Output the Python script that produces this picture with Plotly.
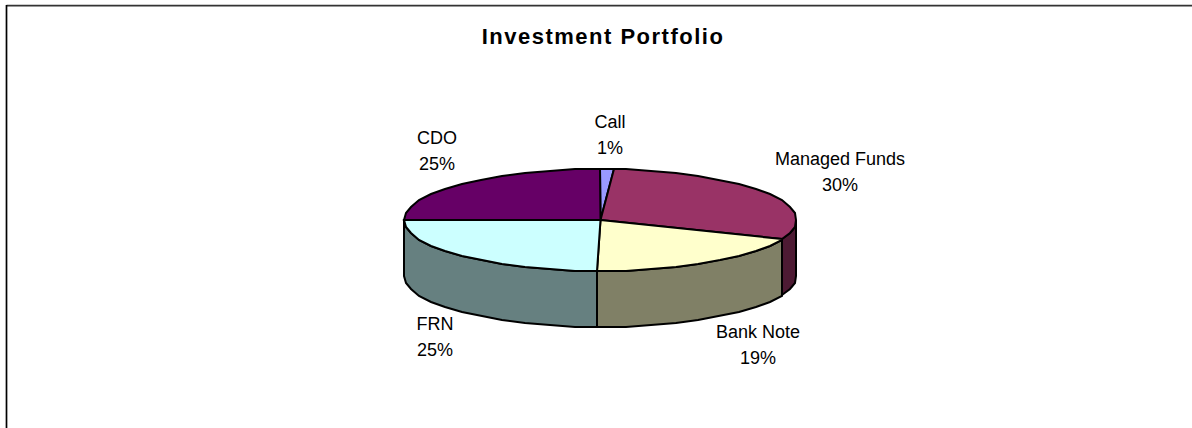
import math
import plotly.graph_objects as go

# Data
categories = ["Call", "Managed Funds", "Bank Note", "FRN", "CDO"]
values = [1.1, 30.1, 19.1, 24.7, 25.0]
title_text = "Investment Portfolio"

# Styles
top_colors = ["#9999FF", "#993366", "#FFFFCC", "#CCFFFF", "#660066"]
side_colors = ["#4D4D80", "#4D1A33", "#808066", "#668080", "#330033"]

# Layout (pixels)
W, H = 1192, 428
CX, CY, RX, RY, DEPTH = 600.5, 220, 196, 51, 56
STEP = 7.5
LABEL_CENTERS = [(610, 123), (840, 160), (758, 333), (435, 325), (437, 139)]
LINE_GAP = 26


def arc(a0, a1):
    """Angles in degrees, clockwise from the top, sampled on a coarse facet grid."""
    inner = []
    k = math.floor(a0 / STEP) + 1
    while k * STEP < a1:
        inner.append(k * STEP)
        k += 1
    return [a0] + inner + [a1]


def pt(a, dz=0.0):
    r = math.radians(a)
    return round(CX + RX * math.sin(r)), round(CY - RY * math.cos(r)) + dz


total = sum(values)
edges = [0.0]
for v in values:
    edges.append(edges[-1] + v / total * 360.0)

fig = go.Figure()

# Outer walls, only the part facing the viewer
for i in range(len(values)):
    a0, a1 = max(edges[i], 90.0), min(edges[i + 1], 270.0)
    if a1 <= a0:
        continue
    upper = [pt(a) for a in arc(a0, a1)]
    lower = [pt(a, DEPTH) for a in reversed(arc(a0, a1))]
    poly = upper + lower + [upper[0]]
    fig.add_trace(go.Scatter(
        x=[p[0] for p in poly], y=[p[1] for p in poly], mode="lines",
        fill="toself", fillcolor=side_colors[i],
        line=dict(color="#000000", width=2), hoverinfo="skip"))

# Top faces
for i in range(len(values)):
    rim = [pt(a) for a in arc(edges[i], edges[i + 1])]
    poly = [(CX, CY)] + rim + [(CX, CY)]
    fig.add_trace(go.Scatter(
        x=[p[0] for p in poly], y=[p[1] for p in poly], mode="lines",
        fill="toself", fillcolor=top_colors[i],
        line=dict(color="#000000", width=2), hoverinfo="skip"))

# Labels
percents = [f"{round(v / total * 100)}%" for v in values]
label_font = dict(family="Liberation Sans, Arial, sans-serif", size=18, color="#000000")
fig.add_trace(go.Scatter(
    x=[c[0] for c in LABEL_CENTERS], y=[c[1] for c in LABEL_CENTERS],
    mode="text", text=categories, textposition="middle center",
    textfont=label_font, hoverinfo="skip"))
fig.add_trace(go.Scatter(
    x=[c[0] for c in LABEL_CENTERS], y=[c[1] + LINE_GAP for c in LABEL_CENTERS],
    mode="text", text=percents, textposition="middle center",
    textfont=label_font, hoverinfo="skip"))

fig.update_layout(
    width=W, height=H, autosize=False,
    margin=dict(l=0, r=0, t=0, b=0),
    paper_bgcolor="#FFFFFF", plot_bgcolor="#FFFFFF",
    showlegend=False,
    title=dict(
        text=f"<b>{title_text}</b>", x=603 / W, xanchor="center",
        y=1 - 36 / H, yanchor="middle",
        font=dict(family="Liberation Sans, Arial, sans-serif", size=22, color="#000000")),
    xaxis=dict(range=[0, W], visible=False, fixedrange=True),
    yaxis=dict(range=[H, 0], visible=False, fixedrange=True),
    shapes=[
        dict(type="line", xref="x", yref="y", x0=6.5, y0=5.7, x1=W, y1=5.7,
             line=dict(color="#333333", width=1.7), layer="above"),
        dict(type="line", xref="x", yref="y", x0=6.5, y0=5, x1=6.5, y1=H,
             line=dict(color="#000000", width=1.7), layer="above"),
    ],
)

fig.write_html(
    "out.html",
    config={"displayModeBar": False},
    post_script=(
        "document.body.style.margin='0';"
        "document.documentElement.style.overflow='hidden';"
        "document.querySelectorAll('.gtitle').forEach(function(t){t.style.letterSpacing='1.5px';});"
    ),
)
